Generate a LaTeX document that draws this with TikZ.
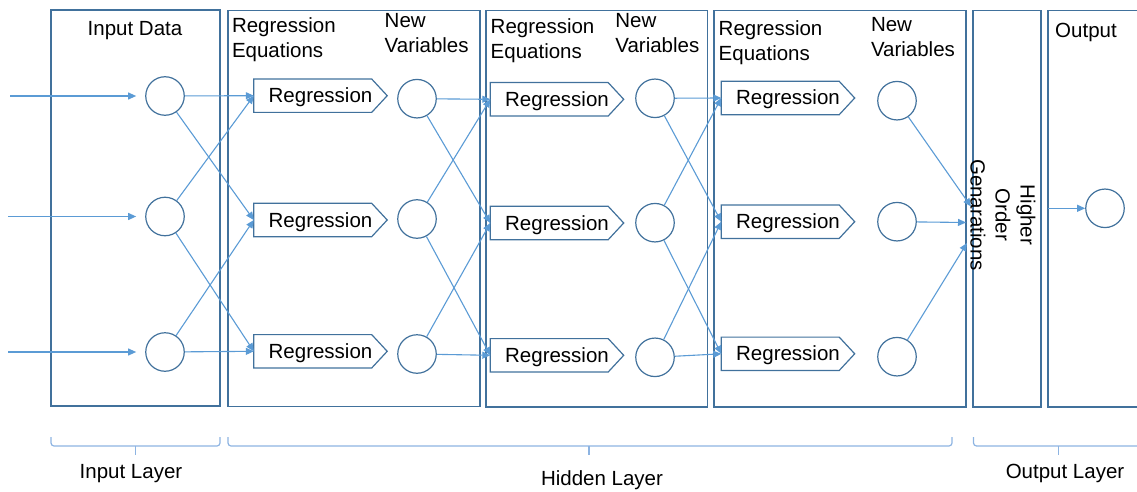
\documentclass[tikz,border=0pt]{standalone}
\usepackage{fontspec}
\setmainfont{Liberation Sans}
\usetikzlibrary{arrows.meta}
\definecolor{frameblue}{HTML}{41719C}
\definecolor{linkblue}{HTML}{5B9BD5}
\definecolor{bracketblue}{HTML}{8DB4E2}
\newcommand\regshape[3]{%
  \node[regbox] (#1) at (#2,#3) {Regression};
  \draw[regline] (#1.north west) -- ([xshift=-15.5pt]#1.north east) -- (#1.east)
     -- ([xshift=-15.5pt]#1.south east) -- (#1.south west) -- cycle;}
\begin{document}
\begin{tikzpicture}[x=1pt,y=-1pt,
  every node/.style={font=\fontsize{20.5}{25}\selectfont, inner sep=0pt},
  frame/.style={draw=frameblue, line width=1.3pt},
  var/.style={circle, draw=frameblue, line width=1.2pt, minimum size=38.5pt},
  regbox/.style={minimum width=133pt, minimum height=33pt, text height=16pt, text depth=2pt},
  regline/.style={draw=frameblue, line width=1.2pt},
  link/.style={draw=linkblue, line width=1.1pt, -{Triangle[length=8pt,width=7pt]}},
  brace/.style={draw=bracketblue, line width=1.2pt, rounded corners=3pt},
  lbl/.style={anchor=north west, align=left},
]
\useasboundingbox (0,0) rectangle (1137,492);
% frames
\draw[frame] (51,10) rectangle (220,406);
\draw[frame] (228,10.5) rectangle (480,406.5);
\draw[frame] (486,10.5) rectangle (707.5,407);
\draw[frame] (714,10.5) rectangle (966,407);
\draw[frame] (973,10.5) rectangle (1041,407);
\draw[frame] (1145,10.5) -- (1048,10.5) -- (1048,407) -- (1145,407);
% headings
\node[anchor=north] (hin) at (135,20.7) {Input Data};
\node[lbl] (hre1) at (231.8,17.3) {Regression\\Equations};
\node[lbl] (hnv1) at (384.5,13.3) {New\\Variables};
\node[lbl] (hre2) at (490.5,18.3) {Regression\\Equations};
\node[lbl] (hnv2) at (615.2,13.3) {New\\Variables};
\node[lbl] (hre3) at (718.5,20) {Regression\\Equations};
\node[lbl] (hnv3) at (870.8,17.3) {New\\Variables};
\node[lbl] (hout) at (1055,22.7) {Output};
\node[rotate=-90, align=center] (hog) at (1003,215) {Higher\\Order\\Genarations};
% input nodes
\node[var] (i1) at (165,96) {};
\node[var] (i2) at (165,216.5) {};
\node[var] (i3) at (165,352) {};
\regshape{ra1}{320.5}{95.7}
\regshape{ra2}{320.5}{220}
\regshape{ra3}{320.5}{351.3}
\node[var] (v1) at (417,98.7) {};
\node[var] (v2) at (417,219) {};
\node[var] (v3) at (417,354) {};
\regshape{rb1}{557}{99.3}
\regshape{rb2}{557}{223}
\regshape{rb3}{557}{355.3}
\node[var] (w1) at (655,98.3) {};
\node[var] (w2) at (655,222.7) {};
\node[var] (w3) at (655,357.3) {};
\regshape{rc1}{788}{98}
\regshape{rc2}{788}{221.7}
\regshape{rc3}{788}{353.8}
\node[var] (u1) at (897,100.7) {};
\node[var] (u2) at (897,221.7) {};
\node[var] (u3) at (897,356.7) {};
\node[var] (out) at (1105,208.3) {};
% input arrows
\coordinate (s1) at (10,96);
\coordinate (s2) at (8,216.5);
\coordinate (s3) at (8,352);
\draw[link, shorten >=9pt] (s1) -- (i1);
\draw[link, shorten >=9pt] (s2) -- (i2);
\draw[link, shorten >=9pt] (s3) -- (i3);
% layer connections
\draw[link] (i1) -- (ra1.west);
\draw[link] (i1) -- (ra2.west);
\draw[link] (i2) -- (ra1.west);
\draw[link] (i2) -- (ra3.west);
\draw[link] (i3) -- (ra2.west);
\draw[link] (i3) -- (ra3.west);
\draw[link] (v1) -- (rb1.west);
\draw[link] (v1) -- (rb2.west);
\draw[link] (v2) -- (rb1.west);
\draw[link] (v2) -- (rb3.west);
\draw[link] (v3) -- (rb2.west);
\draw[link] (v3) -- (rb3.west);
\draw[link] (w1) -- (rc1.west);
\draw[link] (w1) -- (rc2.west);
\draw[link] (w2) -- (rc1.west);
\draw[link] (w2) -- (rc3.west);
\draw[link] (w3) -- (rc2.west);
\draw[link] (w3) -- (rc3.west);
\coordinate (hA) at (971,206.5);
\coordinate (hB) at (966,222.5);
\coordinate (hC) at (967,243);
\draw[link] (u1) -- (hA);
\draw[link] (u2) -- (hB);
\draw[link] (u3) -- (hC);
\coordinate (oS) at (1048,208.3);
\draw[link] (oS) -- (out);
% brackets
\draw[brace] (51,437) -- (51,446) -- (220,446) -- (220,437);
\draw[brace] (135.5,446) -- (135.5,455);
\draw[brace] (228,437) -- (228,446) -- (952,446) -- (952,437);
\draw[brace] (589,446) -- (589,455);
\draw[brace] (973.5,437) -- (973.5,446) -- (1145,446);
\draw[brace] (1058.5,446) -- (1058.5,455);
\node[anchor=north] (lin) at (131,464) {Input Layer};
\node[anchor=north] (lhid) at (602,470.7) {Hidden Layer};
\node[anchor=north] (lout) at (1065,464) {Output Layer};
\end{tikzpicture}
\end{document}
